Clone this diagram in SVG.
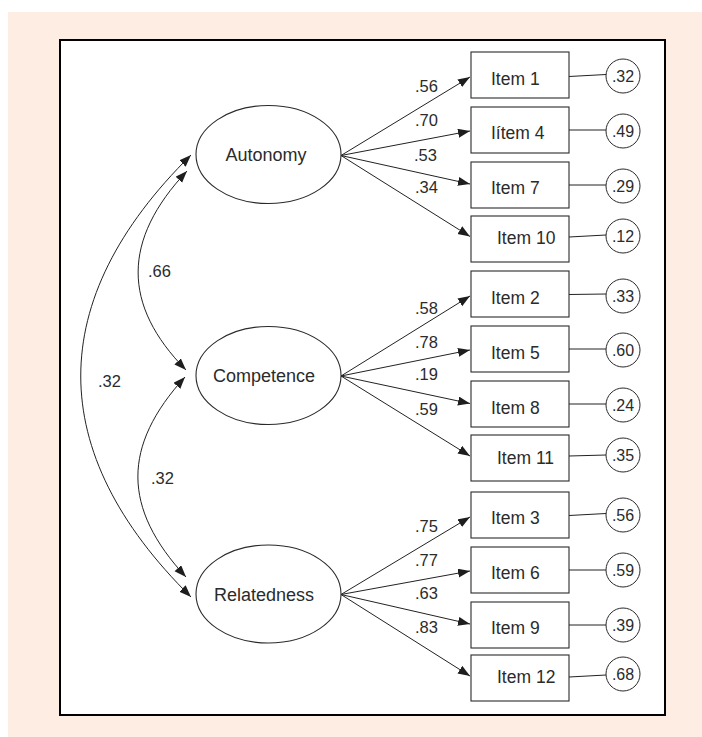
<svg xmlns="http://www.w3.org/2000/svg" width="702" height="737" viewBox="0 0 702 737">
<defs>
<style>
.bg{fill:#fdede3}
.frame{fill:#ffffff;stroke:#000000;stroke-width:2}
.lat{fill:#ffffff;stroke:#2a2a2a;stroke-width:1.1}
.box{fill:#ffffff;stroke:#2a2a2a;stroke-width:1.1}
.err{fill:#ffffff;stroke:#2a2a2a;stroke-width:1}
.ln{fill:none;stroke:#222222;stroke-width:1}
.t{font-family:"Liberation Sans",Arial,sans-serif;fill:#2b2b2b}
.tl{font-size:18px;text-anchor:middle}
.ti{font-size:17.5px}
.te{font-size:16px;text-anchor:middle}
.tw{font-size:16.5px}
</style>
<marker id="ah" markerUnits="userSpaceOnUse" markerWidth="13" markerHeight="10" refX="12" refY="4.5" orient="auto-start-reverse">
<path d="M0,0 L12,4.5 L0,9 z" fill="#1e1e1e"/>
</marker>
</defs>
<rect class="bg" x="8" y="12" width="694" height="725"/>
<rect class="frame" x="60" y="40" width="605" height="675"/>

<g id="connectors">
<!-- covariances -->
<path class="ln" d="M187,171 C122,240 122,305 186,370" marker-start="url(#ah)" marker-end="url(#ah)"/>
<path class="ln" d="M185,377 C122,446 122,508 186,577" marker-start="url(#ah)" marker-end="url(#ah)"/>
<path class="ln" d="M191,155 C44,300 44,452 191,597" marker-start="url(#ah)" marker-end="url(#ah)"/>
<!-- Autonomy loadings -->
<path class="ln" d="M341,155.5 L470,77" marker-end="url(#ah)"/>
<path class="ln" d="M341,155.5 L470,131" marker-end="url(#ah)"/>
<path class="ln" d="M341,155.5 L470,184" marker-end="url(#ah)"/>
<path class="ln" d="M341,155.5 L470,236.5" marker-end="url(#ah)"/>
<!-- Competence loadings -->
<path class="ln" d="M341,376 L470,296" marker-end="url(#ah)"/>
<path class="ln" d="M341,376 L470,350" marker-end="url(#ah)"/>
<path class="ln" d="M341,376 L470,403.5" marker-end="url(#ah)"/>
<path class="ln" d="M341,376 L470,456" marker-end="url(#ah)"/>
<!-- Relatedness loadings -->
<path class="ln" d="M341,594.5 L470,517" marker-end="url(#ah)"/>
<path class="ln" d="M341,594.5 L470,571" marker-end="url(#ah)"/>
<path class="ln" d="M341,594.5 L470,624" marker-end="url(#ah)"/>
<path class="ln" d="M341,594.5 L470,676" marker-end="url(#ah)"/>
<!-- error links -->
<path class="ln" d="M569,76.5 L606,74.5"/>
<path class="ln" d="M569,130 L606,130"/>
<path class="ln" d="M569,185 L606,185"/>
<path class="ln" d="M569,237 L606,235"/>
<path class="ln" d="M569,294.5 L606,294"/>
<path class="ln" d="M569,349 L606,349"/>
<path class="ln" d="M569,404 L606,404"/>
<path class="ln" d="M569,456 L606,455"/>
<path class="ln" d="M569,515.5 L606,513.5"/>
<path class="ln" d="M569,570 L606,570"/>
<path class="ln" d="M569,625 L606,625"/>
<path class="ln" d="M569,677 L606,675"/>
<!-- loading labels -->
<text class="t tw" x="415" y="92">.56</text>
<text class="t tw" x="415" y="125.5">.70</text>
<text class="t tw" x="414" y="160.5">.53</text>
<text class="t tw" x="415" y="193">.34</text>
<text class="t tw" x="415" y="314">.58</text>
<text class="t tw" x="415" y="348">.78</text>
<text class="t tw" x="415" y="380">.19</text>
<text class="t tw" x="415" y="415">.59</text>
<text class="t tw" x="415" y="532">.75</text>
<text class="t tw" x="415" y="566">.77</text>
<text class="t tw" x="415" y="599">.63</text>
<text class="t tw" x="415" y="633">.83</text>
<text class="t tw" x="148" y="277">.66</text>
<text class="t tw" x="98" y="387">.32</text>
<text class="t tw" x="151" y="483.5">.32</text>
</g>

<g id="autonomy"><ellipse class="lat" cx="268.5" cy="154.5" rx="72.5" ry="49"/><text class="t tl" x="266" y="161">Autonomy</text></g>
<g id="competence"><ellipse class="lat" cx="268.5" cy="375.5" rx="72.5" ry="49"/><text class="t tl" x="264" y="382">Competence</text></g>
<g id="relatedness"><ellipse class="lat" cx="268.5" cy="594" rx="72.5" ry="49"/><text class="t tl" x="264" y="600.5">Relatedness</text></g>

<g id="item1"><rect class="box" x="471" y="52" width="98" height="46"/><text class="t ti" x="491" y="85">Item 1</text></g>
<g id="item4"><rect class="box" x="471" y="107" width="98" height="46"/><text class="t ti" x="491" y="139">Iítem 4</text></g>
<g id="item7"><rect class="box" x="471" y="162" width="98" height="46"/><text class="t ti" x="491" y="194">Item 7</text></g>
<g id="item10"><rect class="box" x="471" y="216" width="98" height="46"/><text class="t ti" x="497" y="244">Item 10</text></g>
<g id="item2"><rect class="box" x="471" y="271" width="98" height="46"/><text class="t ti" x="491" y="304">Item 2</text></g>
<g id="item5"><rect class="box" x="471" y="326" width="98" height="46"/><text class="t ti" x="491" y="359">Item 5</text></g>
<g id="item8"><rect class="box" x="471" y="381" width="98" height="46"/><text class="t ti" x="491" y="414">Item 8</text></g>
<g id="item11"><rect class="box" x="471" y="435" width="98" height="46"/><text class="t ti" x="497" y="464">Item 11</text></g>
<g id="item3"><rect class="box" x="471" y="492" width="98" height="46"/><text class="t ti" x="491" y="524">Item 3</text></g>
<g id="item6"><rect class="box" x="471" y="547" width="98" height="46"/><text class="t ti" x="491" y="579">Item 6</text></g>
<g id="item9"><rect class="box" x="471" y="602" width="98" height="46"/><text class="t ti" x="491" y="634">Item 9</text></g>
<g id="item12"><rect class="box" x="471" y="655" width="98" height="46"/><text class="t ti" x="497" y="683">Item 12</text></g>

<g id="e1"><circle class="err" cx="623" cy="76" r="17"/><text class="t te" x="623" y="82">.32</text></g>
<g id="e4"><circle class="err" cx="623" cy="131" r="17"/><text class="t te" x="623" y="137">.49</text></g>
<g id="e7"><circle class="err" cx="623" cy="186" r="17"/><text class="t te" x="623" y="192">.29</text></g>
<g id="e10"><circle class="err" cx="623" cy="236" r="17"/><text class="t te" x="623" y="242">.12</text></g>
<g id="e2"><circle class="err" cx="623" cy="296" r="17"/><text class="t te" x="623" y="302">.33</text></g>
<g id="e5"><circle class="err" cx="623" cy="350" r="17"/><text class="t te" x="623" y="356">.60</text></g>
<g id="e8"><circle class="err" cx="623" cy="405" r="17"/><text class="t te" x="623" y="411">.24</text></g>
<g id="e11"><circle class="err" cx="623" cy="455" r="17"/><text class="t te" x="623" y="461">.35</text></g>
<g id="e3"><circle class="err" cx="623" cy="515" r="17"/><text class="t te" x="623" y="521">.56</text></g>
<g id="e6"><circle class="err" cx="623" cy="570" r="17"/><text class="t te" x="623" y="576">.59</text></g>
<g id="e9"><circle class="err" cx="623" cy="625" r="17"/><text class="t te" x="623" y="631">.39</text></g>
<g id="e12"><circle class="err" cx="623" cy="674" r="17"/><text class="t te" x="623" y="680">.68</text></g>
</svg>
